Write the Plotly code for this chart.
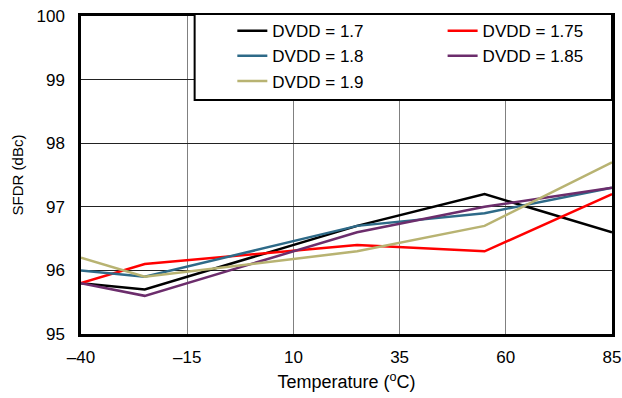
import plotly.graph_objects as go

# temperature sweep points (degC)
temperature = [-40, -25, 25, 55, 85]

# SFDR (dBc) per DVDD supply
sfdr_17 = [95.8, 95.7, 96.7, 97.2, 96.6]
sfdr_175 = [95.8, 96.1, 96.4, 96.3, 97.2]
sfdr_18 = [96.0, 95.9, 96.7, 96.9, 97.3]
sfdr_185 = [95.8, 95.6, 96.6, 97.0, 97.3]
sfdr_19 = [96.2, 95.9, 96.3, 96.7, 97.7]

x_ticks = [-40, -15, 10, 35, 60, 85]
x_tick_text = ["\u201340", "\u201315", "10", "35", "60", "85"]
y_ticks = [95, 96, 97, 98, 99, 100]

# name, values, colour, which legend column
series = [
    ("DVDD = 1.7", sfdr_17, "#000000", "legend"),
    ("DVDD = 1.75", sfdr_175, "#FF0000", "legend2"),
    ("DVDD = 1.8", sfdr_18, "#2E6A88", "legend"),
    ("DVDD = 1.85", sfdr_185, "#6C2D6C", "legend2"),
    ("DVDD = 1.9", sfdr_19, "#B8B372", "legend"),
]

font_family = "Liberation Sans, Arial, sans-serif"

fig = go.Figure()
for name, vals, color, leg in series:
    fig.add_trace(go.Scatter(
        x=temperature, y=vals, name=name, mode="lines",
        line=dict(color=color, width=2.5),
        legend=leg,
    ))

# legend frame drawn as a box so the two columns can sit inside it
fig.add_shape(
    type="rect", xref="paper", yref="paper",
    x0=0.214, x1=1.0, y0=0.736, y1=1.006,
    line=dict(color="black", width=2),
    fillcolor="white", layer="above",
)

legend_style = dict(
    orientation="v",
    y=1.009, yanchor="top",
    xanchor="left",
    bgcolor="rgba(0,0,0,0)",
    borderwidth=0,
    font=dict(size=17),
    traceorder="normal",
)

fig.update_layout(
    width=622,
    height=398,
    paper_bgcolor="white",
    plot_bgcolor="white",
    margin=dict(l=81, r=10, t=16, b=64),
    font=dict(family=font_family, size=17, color="black"),
    legend=dict(x=0.285, **legend_style),
    legend2=dict(x=0.681, **legend_style),
    showlegend=True,
)

fig.update_xaxes(
    range=[-40, 85],
    tickvals=x_ticks,
    ticktext=x_tick_text,
    showgrid=True,
    gridcolor="#808080",
    gridwidth=1,
    zeroline=False,
    showline=True,
    linecolor="black",
    linewidth=2.5,
    mirror=True,
    ticks="",
    automargin=False,
    ticklabelstandoff=6,
    tickfont=dict(size=17),
    title=dict(text="Temperature (<sup>o</sup>C)", font=dict(size=18), standoff=10),
)
fig.update_yaxes(
    range=[95, 100],
    tickvals=y_ticks,
    showgrid=True,
    gridcolor="#222222",
    gridwidth=1,
    zeroline=False,
    showline=True,
    linecolor="black",
    linewidth=2.5,
    mirror=True,
    ticks="",
    automargin=False,
    ticklabelstandoff=10,
    tickfont=dict(size=17),
    title=dict(text="SFDR (dBc)", font=dict(size=15), standoff=10),
)

fig.write_html(
    "out.html",
    config={"displayModeBar": False},
    post_script="document.body.style.margin='0';",
)
